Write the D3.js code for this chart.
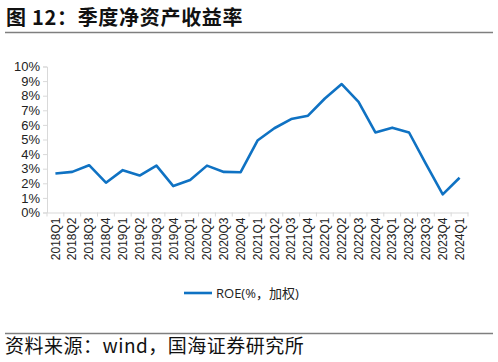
<!DOCTYPE html>
<html>
<head>
<meta charset="utf-8">
<script src="https://cdn.jsdelivr.net/npm/d3@7"></script>
<style>
body { margin: 0; background: #fff; }
svg { display: block; font-family: "Open Sans", "Noto Sans CJK SC", sans-serif; }
</style>
</head>
<body>
<svg id="chart" width="498" height="362"></svg>
<script>
var quarters = ['2018Q1', '2018Q2', '2018Q3', '2018Q4', '2019Q1', '2019Q2', '2019Q3', '2019Q4',
    '2020Q1', '2020Q2', '2020Q3', '2020Q4', '2021Q1', '2021Q2', '2021Q3', '2021Q4',
    '2022Q1', '2022Q2', '2022Q3', '2022Q4', '2023Q1', '2023Q2', '2023Q3', '2023Q4', '2024Q1']
var roe = [2.67, 2.78, 3.24, 2.04, 2.90, 2.53, 3.21, 1.81,
    2.22, 3.21, 2.78, 2.76, 4.93, 5.77, 6.40, 6.63,
    7.81, 8.80, 7.58, 5.48, 5.81, 5.48, 3.33, 1.24, 2.38]
var yTicks = [0, 1, 2, 3, 4, 5, 6, 7, 8, 9, 10]
var seriesName = 'ROE(%，加权)'

var svg = d3.select('#chart')
var axisColor = '#d9d9d9'
var lineColor = '#0f72c3'

// title
svg.append('text').text('图 12：季度净资产收益率')
    .attr('x', 6).attr('y', 25)
    .attr('font-family', '"Noto Sans CJK SC", sans-serif')
    .attr('font-weight', 'bold').attr('font-size', 20).attr('fill', '#111')
    .attr('letter-spacing', 0.7)
svg.append('line').attr('x1', 5).attr('x2', 493).attr('y1', 32.5).attr('y2', 32.5)
    .attr('stroke', '#7f7f7f').attr('stroke-width', 1.5)

var xscale = d3.scaleBand().domain(quarters).range([47, 468])
var yscale = d3.scaleLinear().domain([0, 10]).range([212.5, 66.5])

var yAxis = svg.append('g')
    .attr('transform', 'translate(' + 47 + ',0)')
    .call(d3.axisLeft(yscale).tickValues(yTicks).tickSize(4).tickFormat(d => d + '%'))
yAxis.select('.domain').attr('stroke', axisColor)
yAxis.selectAll('line').attr('stroke', axisColor)
yAxis.selectAll('text').attr('font-size', 13).attr('fill', '#222').attr('x', -7)

var xAxis = svg.append('g')
    .attr('transform', 'translate(0,' + 212.5 + ')')
    .call(d3.axisBottom(xscale).tickSize(0).tickSizeOuter(0))
xAxis.select('.domain').attr('stroke', axisColor)
xAxis.selectAll('.tick text')
    .attr('font-size', 12).attr('fill', '#222')
    .attr('transform', 'rotate(-90)')
    .attr('text-anchor', 'end')
    .attr('x', -5).attr('y', 0).attr('dy', '0.35em')
// boundary ticks between categories
svg.append('g').selectAll('line')
    .data(quarters.concat(['end']))
    .enter().append('line')
    .attr('x1', (d, i) => 47 + i * xscale.step())
    .attr('x2', (d, i) => 47 + i * xscale.step())
    .attr('y1', 212.5).attr('y2', 216.5)
    .attr('stroke', axisColor)

var line = d3.line()
    .x((d, i) => xscale(quarters[i]) + xscale.bandwidth() / 2)
    .y(d => yscale(d))
svg.append('path').datum(roe)
    .attr('d', line)
    .attr('fill', 'none')
    .attr('stroke', lineColor)
    .attr('stroke-width', 2.6)
    .attr('stroke-linejoin', 'round')

// legend
svg.append('line').attr('x1', 184).attr('x2', 212).attr('y1', 293).attr('y2', 293)
    .attr('stroke', lineColor).attr('stroke-width', 2.6)
svg.append('text').text(seriesName)
    .attr('x', 216).attr('y', 298)
    .attr('font-size', 13).attr('fill', '#222')

// source
svg.append('line').attr('x1', 5).attr('x2', 493).attr('y1', 333.5).attr('y2', 333.5)
    .attr('stroke', '#7f7f7f').attr('stroke-width', 1.5)
svg.append('text').text('资料来源：wind，国海证券研究所')
    .attr('x', 5).attr('y', 353)
    .attr('font-family', '"Noto Sans CJK SC", sans-serif')
    .attr('font-size', 19).attr('fill', '#111')
    .attr('letter-spacing', 0.5)
</script>
</body>
</html>
